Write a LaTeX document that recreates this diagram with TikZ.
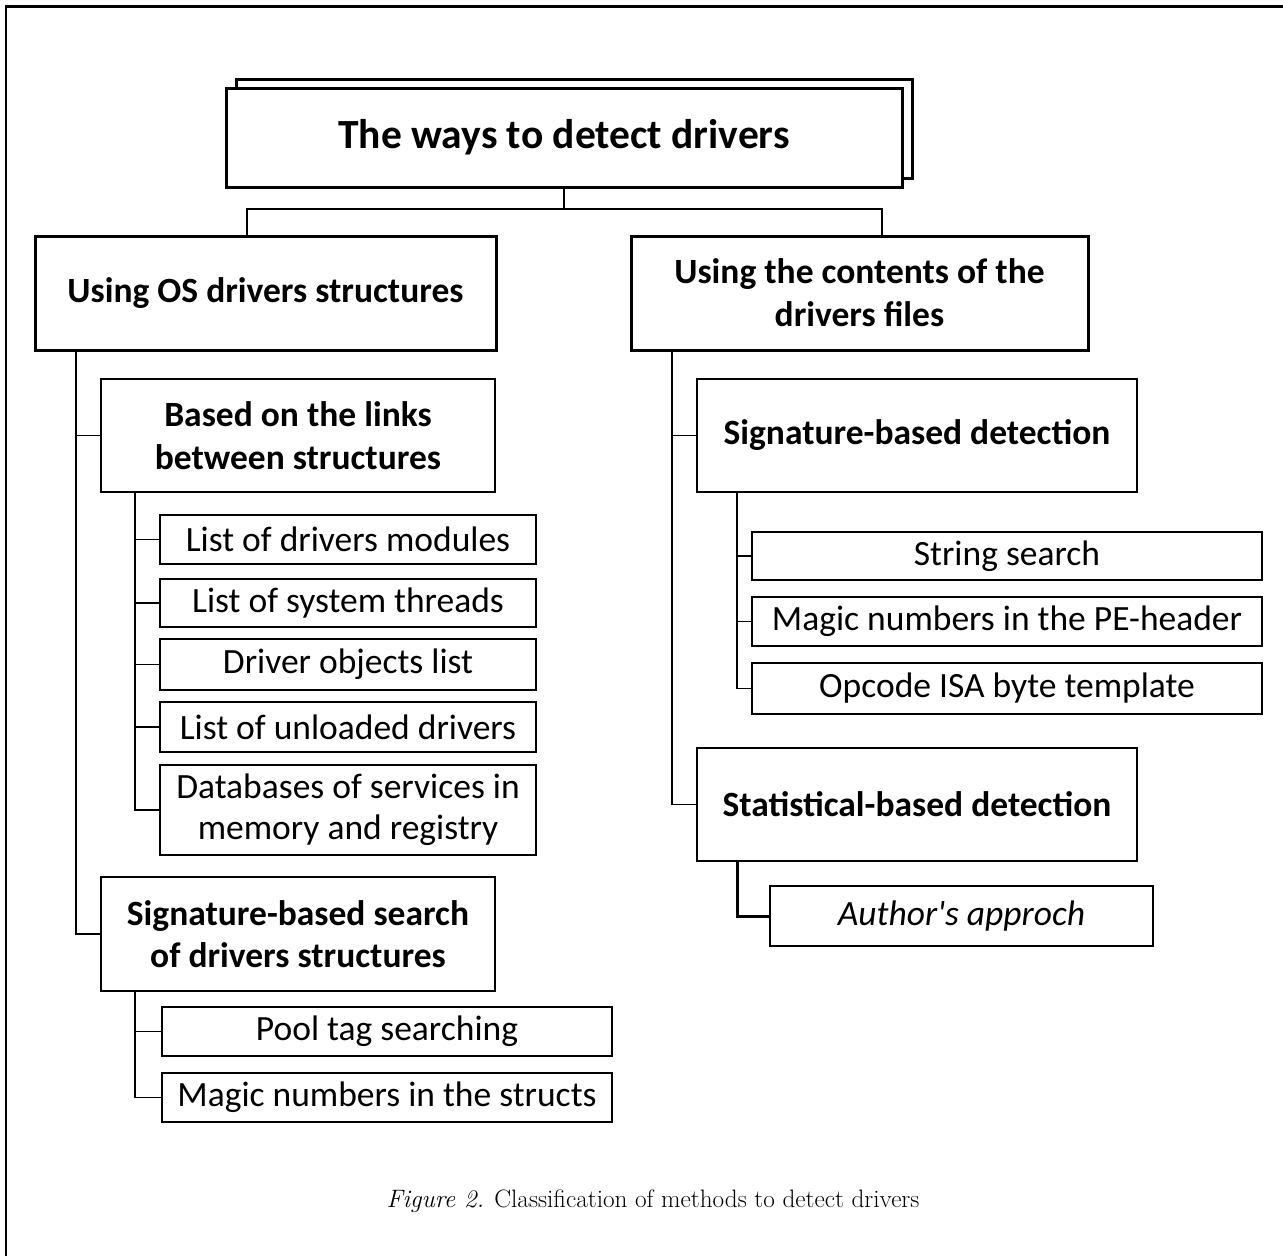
\documentclass[tikz,border=0pt]{standalone}
\usepackage{fontspec}
\newfontfamily\calibri{Carlito}
\begin{document}
\begin{tikzpicture}[x=1pt,y=-1pt,
  box/.style={draw, rectangle, inner sep=0pt, outer sep=0pt, align=center, fill=white,
    font=\calibri\fontsize{35.5}{41}\selectfont},
  topbox/.style={box, line width=3pt, font=\calibri\bfseries\fontsize{35.5}{43}\selectfont},
  midbox/.style={box, line width=2.4pt, font=\calibri\bfseries\fontsize{35.5}{42.5}\selectfont},
  leaf/.style={box, line width=1.5pt},
  link/.style={line width=1.6pt},
]
\useasboundingbox (0,0) rectangle (1283,1256);
\clip (0,0) rectangle (1283,1256);
% page frame
\draw[line width=2.2pt] (6,1300) -- (6,6.5);
\draw[line width=3pt] (5,6.5) -- (1300,6.5);

% root with its stacked copy
\node[topbox, minimum width=676, minimum height=99] (titleback) at (574,128.5) {};
\node[topbox, minimum width=676, minimum height=99,
  font=\calibri\bfseries\fontsize{41.5}{43}\selectfont] (title) at (564,137.5) {The ways to detect drivers};

% first level
\node[topbox, minimum width=461, minimum height=114] (L1) at (265.5,293) {Using OS drivers structures};
\node[topbox, minimum width=457, minimum height=114] (R1) at (859.5,293) {Using the contents of the\\drivers files};

% left branch
\node[midbox, minimum width=394, minimum height=113] (L2) at (298,435.5) {Based on the links\\between structures};
\node[leaf, minimum width=376, minimum height=49] (a1) at (348,539.5) {List of drivers modules};
\node[leaf, minimum width=376, minimum height=48] (a2) at (348,603) {List of system threads};
\node[leaf, minimum width=376, minimum height=51] (a3) at (348,664.5) {Driver objects list};
\node[leaf, minimum width=376, minimum height=50] (a4) at (348,727) {List of unloaded drivers};
\node[leaf, minimum width=376, minimum height=90] (a5) at (348,810) {Databases of services in\\memory and registry};

\node[midbox, minimum width=394, minimum height=114] (L3) at (298,934) {Signature-based search\\of drivers structures};
\node[leaf, minimum width=450, minimum height=49] (b1) at (387,1031.5) {Pool tag searching};
\node[leaf, minimum width=450, minimum height=49] (b2) at (387,1097.5) {Magic numbers in the structs};

% right branch
\node[midbox, minimum width=440, minimum height=113] (R2) at (917,435.5) {Signature-based detection};
\node[leaf, minimum width=510, minimum height=48] (c1) at (1007,556) {String search};
\node[leaf, minimum width=510, minimum height=49] (c2) at (1007,621.5) {Magic numbers in the PE-header};
\node[leaf, minimum width=510, minimum height=51] (c3) at (1007,688.5) {Opcode ISA byte template};

\node[midbox, minimum width=440, minimum height=113] (R3) at (917,804.5) {Statistical-based detection};
\node[leaf, minimum width=383, minimum height=60] (author) at (961.5,916) {\itshape Author's approch};

% connectors
\coordinate (bus) at (564,209);
\draw[link] (title.south) -- (bus);
\draw[link] ([xshift=-18.5pt]L1.north) |- (bus) -| ([xshift=22.5pt]R1.north);

\foreach \t in {L2,L3} \draw[link] ([xshift=41pt]L1.south west) |- (\t.west);
\foreach \t in {a1,a2,a3,a4,a5} \draw[link] ([xshift=34pt]L2.south west) |- (\t.west);
\foreach \t in {b1,b2} \draw[link] ([xshift=34pt]L3.south west) |- (\t.west);
\foreach \t in {R2,R3} \draw[link] ([xshift=41pt]R1.south west) |- (\t.west);
\foreach \t in {c1,c2,c3} \draw[link] ([xshift=40pt]R2.south west) |- (\t.west);
\draw[line width=3pt] ([xshift=40pt]R3.south west) |- (author.west);

% caption
\node[anchor=base, inner sep=0pt, font=\fontsize{25.2}{30}\selectfont] (caption) at (653,1207)
  {\textit{Figure 2.} Classification of methods to detect drivers};
\end{tikzpicture}
\end{document}
